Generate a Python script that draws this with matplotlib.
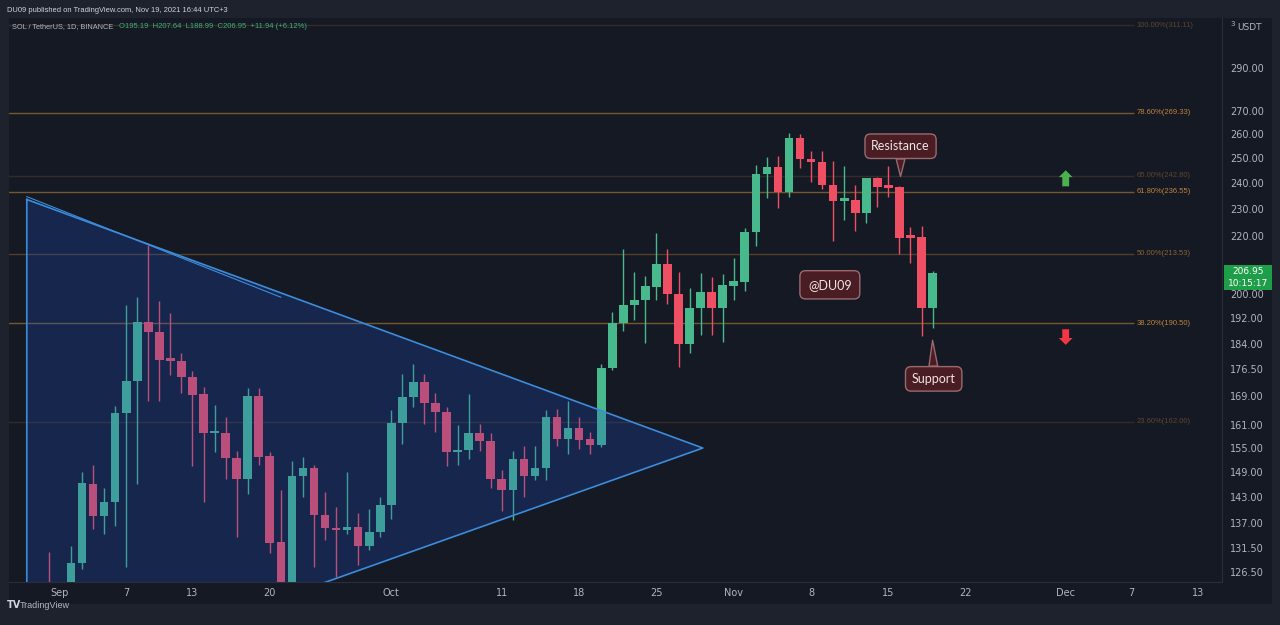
import numpy as np
import pandas as pd
import matplotlib
matplotlib.use('Agg')
import matplotlib.pyplot as plt
import matplotlib.dates as mdates
from matplotlib.patches import Rectangle, Polygon

# daily SOL/USDT candles (log price axis)
dates = pd.date_range('2021-08-31', '2021-11-19', freq='D')
opens = [112.0, 109.5, 113.0, 128.4, 146.2, 138.7, 141.9, 164.3, 173.3, 191.0,
         187.8, 179.4, 179.1, 174.4, 169.5, 158.9, 159.0, 152.5, 147.4, 169.1,
         153.0, 132.8, 121.5, 148.0, 150.0, 138.8, 136.0, 135.6, 136.2, 132.1,
         135.1, 141.3, 161.6, 168.8, 173.0, 166.9, 164.5, 154.1, 154.5, 158.9,
         157.0, 147.4, 144.7, 152.4, 148.0, 150.0, 163.2, 157.5, 160.2, 157.3,
         155.8, 176.9, 190.6, 196.4, 198.0, 202.2, 210.0, 199.9, 184.1, 195.4,
         200.4, 195.4, 202.5, 203.9, 221.3, 243.4, 246.4, 236.3, 258.5, 249.5,
         248.5, 239.1, 233.0, 233.4, 228.4, 241.8, 238.5, 238.4, 219.7, 219.5,
         195.19]
highs = [130.7, 117.5, 132.1, 149.1, 150.9, 145.1, 166.3, 196.2, 198.8, 216.8,
         197.7, 193.7, 181.3, 176.0, 171.4, 166.6, 163.2, 154.4, 171.2, 171.2,
         154.2, 144.8, 151.7, 152.9, 150.8, 144.3, 140.7, 149.1, 139.3, 140.3,
         143.1, 165.0, 175.1, 178.0, 175.1, 169.9, 165.9, 161.2, 169.4, 161.4,
         159.0, 149.5, 154.3, 155.6, 155.6, 165.2, 165.5, 167.7, 163.2, 159.3,
         178.2, 194.1, 215.4, 207.2, 206.0, 221.0, 215.2, 207.2, 201.7, 206.9,
         205.5, 206.4, 212.0, 222.8, 247.2, 250.4, 250.8, 260.5, 259.9, 253.1,
         252.8, 248.8, 246.8, 239.2, 242.1, 242.4, 246.9, 238.8, 223.2, 223.4,
         207.64]
lows = [104.0, 105.0, 111.0, 127.0, 135.7, 134.7, 136.4, 127.6, 146.2, 167.7,
        167.7, 174.8, 169.9, 150.5, 141.9, 154.0, 147.3, 133.9, 143.9, 150.8,
        130.4, 118.5, 120.0, 143.1, 127.6, 133.2, 125.5, 134.6, 128.0, 131.1,
        133.9, 137.9, 156.0, 165.9, 161.4, 159.3, 150.5, 150.7, 152.3, 154.3,
        145.1, 139.9, 137.7, 143.2, 147.1, 147.1, 155.6, 153.5, 154.9, 153.5,
        155.4, 176.3, 188.1, 191.6, 184.4, 197.8, 196.7, 177.2, 181.5, 186.9,
        186.9, 184.7, 197.8, 201.0, 216.2, 234.2, 230.3, 234.6, 245.8, 240.5,
        237.5, 218.1, 225.7, 221.6, 224.5, 230.6, 234.4, 213.6, 210.2, 186.4,
        188.99]
closes = [109.5, 113.0, 128.4, 146.4, 138.7, 141.9, 164.3, 173.3, 191.0, 187.8,
          179.4, 179.1, 174.2, 169.3, 158.9, 159.2, 152.5, 147.4, 169.1, 152.8,
          132.7, 121.5, 148.0, 150.0, 138.8, 136.0, 135.5, 136.2, 132.1, 135.1,
          141.3, 161.6, 168.8, 173.0, 166.9, 164.5, 154.0, 154.5, 158.9, 156.8,
          147.4, 144.7, 152.4, 148.0, 150.0, 163.2, 157.5, 160.2, 157.1, 155.8,
          176.9, 190.6, 196.4, 198.0, 202.4, 210.0, 199.7, 184.1, 195.4, 200.4,
          195.4, 202.7, 204.1, 221.3, 243.4, 246.4, 236.3, 258.5, 249.5, 248.2,
          239.1, 233.0, 233.3, 228.4, 241.8, 238.5, 238.1, 219.2, 219.3, 195.19,
          206.95]

fib_names = ['100.00%', '78.60%', '65.00%', '61.80%', '50.00%', '38.20%', '23.60%']
fib_prices = [311.11, 269.33, 242.80, 236.55, 213.53, 190.50, 162.00]
fib_alpha = [0.25, 0.8, 0.25, 0.8, 0.5, 0.8, 0.25]

# 210.00 sits under the last-price label, so it is not shown
price_ticks = [126.5, 131.5, 137, 143, 149, 155, 161, 169, 176.5, 184, 192,
               200, 220, 230, 240, 250, 260, 270, 290]
tick_days = ['2021-09-01', '2021-09-07', '2021-09-13', '2021-09-20', '2021-10-01',
             '2021-10-11', '2021-10-18', '2021-10-25', '2021-11-01', '2021-11-08',
             '2021-11-15', '2021-11-22', '2021-12-01', '2021-12-07', '2021-12-13']
tick_labels = ['Sep', '7', '13', '20', 'Oct', '11', '18', '25', 'Nov', '8', '15',
               '22', 'Dec', '7', '13']

# triangle drawing: (days from Sep 1, price)
tri_pts = [(-3, 233.5), (58.2, 155.1), (-3, 104.4)]

W, H = 1280, 625
BG = '#151924'
UP, DOWN = '#48b98c', '#ef4f63'
TXT = '#b2b5be'


def fx(px):
    return px / W


def fy(py):
    return 1 - py / H


fig = plt.figure(figsize=(12.8, 6.25), dpi=100)
fig.patch.set_facecolor('#1e222d')
fig.patches.append(Rectangle((fx(9), fy(604)), fx(1272) - fx(9), fy(18) - fy(604),
                             transform=fig.transFigure, facecolor=BG, edgecolor='none',
                             zorder=-10))

ax = fig.add_axes([fx(9), fy(582), fx(1222) - fx(9), fy(18) - fy(582)])
ax.set_facecolor(BG)
ax.set_yscale('log')

base = mdates.date2num(pd.Timestamp('2021-09-01'))
x = mdates.date2num(dates)
o, h, l, c = map(np.array, (opens, highs, lows, closes))
cols = np.where(c >= o, UP, DOWN)

ax.vlines(x, l, h, colors=cols, lw=1, zorder=2)
bottom = np.minimum(o, c)
height = np.maximum(np.abs(c - o), 0.004 * o)
ax.bar(x, height, bottom=bottom, width=0.78, color=cols, zorder=3)

# triangle pattern
tri = [(base + d, p) for d, p in tri_pts]
ax.add_patch(Polygon(tri, closed=True, facecolor='#2050c8', alpha=0.25,
                     edgecolor='none', zorder=4))
tx = [p[0] for p in tri] + [tri[0][0]]
ty = [p[1] for p in tri] + [tri[0][1]]
ax.plot(tx, ty, color='#3c8cdc', lw=1.2, zorder=5)
ax.plot([base - 3, base + 20], [234.6, 198.8], color='#3c8cdc', lw=0.8, zorder=5)

# fibonacci retracement
x_end = base + 97.2
for name, p, a in zip(fib_names, fib_prices, fib_alpha):
    ax.hlines(p, base - 5, x_end, color='#8d6633', lw=1, alpha=a, zorder=1)
    ax.text(x_end + 0.3, p, f'{name}({p:.2f})', fontsize=5.5, color='#c48a3c',
            alpha=min(1, a + 0.15), va='center', ha='left', family='Liberation Sans')

# arrows
xa = base + 91.05
ax.annotate('', xy=(xa, 245.0), xytext=(xa, 238.6),
            arrowprops=dict(arrowstyle='simple,head_length=0.55,head_width=1.1,tail_width=0.55',
                            fc='#4caf50', ec='none', mutation_scale=9, shrinkA=0, shrinkB=0))
ax.annotate('', xy=(xa, 183.8), xytext=(xa, 188.6),
            arrowprops=dict(arrowstyle='simple,head_length=0.55,head_width=1.1,tail_width=0.55',
                            fc='#f23645', ec='none', mutation_scale=9, shrinkA=0, shrinkB=0))

# callouts
box = dict(boxstyle='round,pad=0.5,rounding_size=0.45', fc='#4a1c23', ec='#9a6a70', lw=1)
wedge = dict(arrowstyle='wedge,tail_width=0.7,shrink_factor=0.5', fc='#4a1c23',
             ec='#9a6a70', lw=1, shrinkA=0, shrinkB=0)
ax.annotate('Resistance', xy=(base + 76.1, 242.5), xytext=(base + 76.1, 254.9),
            ha='center', va='center', fontsize=9, color='#f0e4e4', family='Lato',
            bbox=box, arrowprops=wedge, zorder=6)
ax.annotate('Support', xy=(base + 79.0, 185.2), xytext=(base + 79.1, 173.8),
            ha='center', va='center', fontsize=9, color='#f0e4e4', family='Lato',
            bbox=box, arrowprops=wedge, zorder=6)
ax.text(base + 69.7, 202.9, '@DU09', ha='center', va='center', fontsize=9,
        color='#f0e4e4', family='Lato', zorder=6,
        bbox=dict(boxstyle='round,pad=0.65,rounding_size=0.45', fc='#4a1c23', ec='#9a6a70', lw=1))

# axes
ax.set_xlim(base - 4.61, base + 105.2)
ax.set_ylim(124.4, 314.8)
ax.yaxis.tick_right()
ax.yaxis.set_minor_locator(matplotlib.ticker.NullLocator())
ax.set_yticks(price_ticks)
ax.set_yticklabels([f'{t:.2f}' for t in price_ticks])
ax.set_xticks(mdates.date2num(pd.to_datetime(tick_days)))
ax.set_xticklabels(tick_labels)
ax.tick_params(axis='y', length=0, pad=6, labelsize=7, labelcolor=TXT)
ax.tick_params(axis='x', length=0, pad=4, labelsize=7, labelcolor=TXT)
for s in ('top', 'left'):
    ax.spines[s].set_visible(False)
for s in ('right', 'bottom'):
    ax.spines[s].set_color('#2a2e39')

# last price label
fig.patches.append(Rectangle((fx(1224), fy(290)), fx(48), fy(0) - fy(25),
                             transform=fig.transFigure, facecolor='#1f9e4a',
                             edgecolor='none', zorder=5))
fig.text(fx(1248), fy(272), '206.95', fontsize=6.5, color='white', va='center',
         ha='center', zorder=6)
fig.text(fx(1248), fy(284), '10:15:17', fontsize=6.5, color='white', va='center',
         ha='center', zorder=6)

# header texts
fig.text(fx(7), fy(10), 'DU09 published on TradingView.com, Nov 19, 2021 16:44 UTC+3',
         fontsize=5.45, color='#d1d4dc', va='center', family='Liberation Sans')
fig.text(fx(12), fy(27), 'SOL / TetherUS, 1D, BINANCE', fontsize=5.3, color=TXT,
         va='center', family='Liberation Sans')
fig.text(fx(119), fy(27), 'O195.19  H207.64  L188.99  C206.95  +11.94 (+6.12%)',
         fontsize=5.5, color='#3fae7a', va='center', family='Liberation Sans')
fig.text(fx(1230), fy(24), '3', fontsize=5, color=TXT, va='center')
fig.text(fx(1237), fy(28), 'USDT', fontsize=6.5, color=TXT, va='center')
fig.text(fx(7), fy(605), 'TV', fontsize=7, color='#d1d4dc', va='center', weight='bold')
fig.text(fx(20), fy(605), 'TradingView', fontsize=6.5, color='#b2b5be', va='center',
         family='Liberation Sans')

fig.savefig('out.png', dpi=100, facecolor=fig.get_facecolor())
